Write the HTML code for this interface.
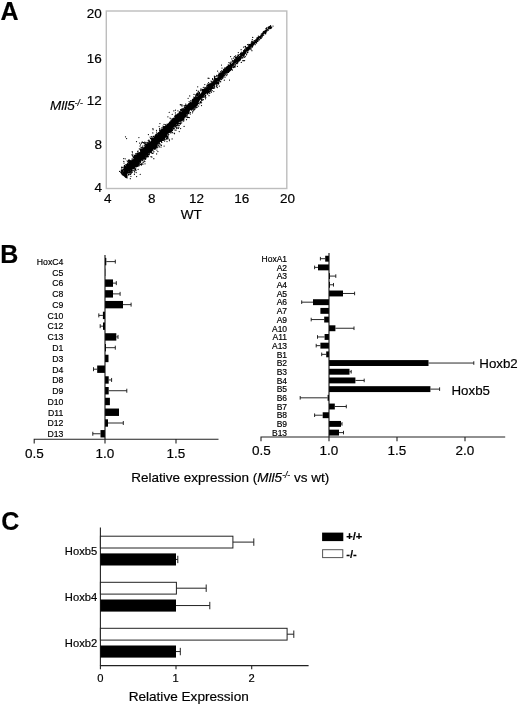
<!DOCTYPE html><html><head><meta charset="utf-8"><title>Figure</title><style>html,body{margin:0;padding:0;background:#fff}svg{display:block;filter:grayscale(1)}text{font-family:"Liberation Sans",Arial,sans-serif;fill:#000;stroke:#000;stroke-width:.18px}</style></head><body>
<svg width="520" height="705" viewBox="0 0 520 705">
<rect width="520" height="705" fill="#fff"/>
<text x="0.60" y="19.60" font-size="25" text-anchor="start" font-weight="bold" font-style="normal" >A</text>
<text x="0.30" y="262.60" font-size="25" text-anchor="start" font-weight="bold" font-style="normal" >B</text>
<text x="1.20" y="529.80" font-size="25" text-anchor="start" font-weight="bold" font-style="normal" >C</text>
<rect x="106.3" y="11" width="180.5" height="177.5" fill="none" stroke="#bdbdbd" stroke-width="1.4"/>
<text x="101.90" y="18.33" font-size="13.5" text-anchor="end" font-weight="normal" font-style="normal" >20</text>
<text x="101.90" y="62.83" font-size="13.5" text-anchor="end" font-weight="normal" font-style="normal" >16</text>
<text x="101.90" y="104.83" font-size="13.5" text-anchor="end" font-weight="normal" font-style="normal" >12</text>
<text x="101.90" y="148.83" font-size="13.5" text-anchor="end" font-weight="normal" font-style="normal" >8</text>
<text x="101.90" y="191.83" font-size="13.5" text-anchor="end" font-weight="normal" font-style="normal" >4</text>
<text x="107.80" y="202.93" font-size="13.5" text-anchor="middle" font-weight="normal" font-style="normal" >4</text>
<text x="151.80" y="202.93" font-size="13.5" text-anchor="middle" font-weight="normal" font-style="normal" >8</text>
<text x="196.50" y="202.93" font-size="13.5" text-anchor="middle" font-weight="normal" font-style="normal" >12</text>
<text x="241.70" y="202.93" font-size="13.5" text-anchor="middle" font-weight="normal" font-style="normal" >16</text>
<text x="287.50" y="202.93" font-size="13.5" text-anchor="middle" font-weight="normal" font-style="normal" >20</text>
<text x="191.20" y="219.43" font-size="13.5" text-anchor="middle" font-weight="normal" font-style="normal" >WT</text>
<text x="50" y="110.4" font-size="13.5" font-style="italic">Mll5<tspan font-size="8.5" dy="-4.5">-/-</tspan></text>
<polygon points="122.2,175.5 123.4,175.2 125.4,174.7 126.8,173.7 127.8,172.2 129.4,171.3 130.9,170.4 132.6,169.6 133.5,168.0 135.4,167.4 136.6,166.1 138.3,165.4 139.4,164.0 139.8,161.9 141.3,160.9 142.3,159.5 144.2,158.9 145.3,157.5 145.9,155.7 148.0,155.3 148.7,153.6 150.2,152.5 151.8,151.7 152.3,149.7 153.9,148.8 155.4,147.8 157.0,146.9 157.5,145.0 158.3,143.4 159.4,142.0 161.6,141.7 162.9,140.5 163.9,139.1 165.0,137.7 166.6,136.8 167.3,135.0 168.0,133.3 170.0,132.8 171.5,131.7 172.1,129.9 172.9,128.2 174.3,127.2 175.4,125.8 176.7,124.6 178.3,123.7 179.1,122.1 180.9,121.4 182.5,120.5 183.0,118.5 184.3,117.4 186.3,116.9 186.5,114.6 187.8,113.4 189.4,112.6 189.9,110.6 191.5,109.8 193.5,109.3 194.1,107.4 195.6,106.4 197.1,105.4 198.2,104.1 198.8,102.2 199.7,100.6 200.8,99.3 202.2,98.2 203.6,97.1 204.4,95.4 205.7,94.2 206.8,92.9 208.8,92.4 209.5,90.6 210.8,89.5 212.7,88.9 213.4,87.1 214.1,85.4 215.6,84.4 217.5,83.8 217.6,81.5 219.5,80.8 220.7,79.6 221.9,78.3 223.5,77.5 224.0,75.4 225.1,74.0 226.7,73.2 227.7,71.7 229.5,71.1 230.7,69.8 231.9,68.5 232.4,66.6 233.8,65.4 234.6,63.8 236.1,62.8 238.0,62.3 239.2,61.0 240.4,59.7 240.9,57.7 242.1,56.5 243.7,55.6 245.1,54.5 246.1,53.1 246.9,51.3 248.8,50.7 249.8,49.3 250.6,47.6 251.9,46.5 253.6,45.7 254.4,44.0 255.8,43.0 256.6,41.3 258.3,40.5 259.1,38.8 260.8,38.0 261.6,36.4 262.7,35.0 264.3,34.1 265.3,32.7 266.5,31.4 267.8,30.2 268.8,28.8 270.0,27.5 271.2,26.2 270.7,25.7 269.4,26.9 268.2,28.2 267.0,29.4 265.5,30.4 264.2,31.5 263.0,32.8 262.0,34.3 260.5,35.3 259.2,36.4 257.8,37.5 256.5,38.7 255.7,40.4 254.4,41.6 252.6,42.2 251.7,43.8 250.2,44.7 248.9,45.9 247.9,47.4 246.4,48.4 245.2,49.7 243.8,50.7 242.8,52.2 241.2,53.0 240.5,54.9 239.3,56.1 237.9,57.2 236.0,57.7 235.3,59.5 233.7,60.4 232.9,62.1 231.9,63.6 230.1,64.3 228.6,65.2 227.2,66.3 225.7,67.3 225.4,69.5 223.4,70.0 222.2,71.2 221.4,72.9 219.7,73.7 218.1,74.5 218.1,76.9 216.6,78.0 214.3,78.2 214.1,80.4 212.7,81.5 211.6,82.9 209.9,83.6 208.0,84.1 207.8,86.5 206.2,87.4 205.2,88.8 203.0,89.1 202.4,91.0 201.4,92.5 200.3,93.8 198.9,94.9 197.7,96.2 195.7,96.7 194.8,98.2 193.0,98.9 191.8,100.1 191.4,102.2 189.4,102.7 188.1,103.8 187.0,105.2 185.9,106.6 184.8,108.0 183.3,108.9 182.3,110.5 181.2,111.8 179.0,112.0 178.3,113.8 176.5,114.5 175.2,115.7 174.5,117.4 172.7,118.1 172.2,120.1 170.3,120.7 169.9,122.8 168.2,123.5 166.7,124.5 165.9,126.2 163.8,126.5 162.9,128.1 161.7,129.4 160.1,130.3 159.5,132.1 158.1,133.2 157.2,134.8 155.6,135.7 154.2,136.8 153.2,138.2 151.6,139.1 151.2,141.1 149.7,142.2 147.7,142.6 146.9,144.2 145.4,145.3 144.7,147.0 143.1,147.9 142.1,149.3 141.1,150.9 140.1,152.3 138.5,153.2 137.0,154.1 135.5,155.1 135.1,157.2 133.7,158.3 132.8,159.8 131.1,160.6 129.2,161.2 128.9,163.4 126.9,163.9 126.6,166.0 125.2,167.1 124.2,168.6 123.5,170.4 123.0,172.3 121.9,173.7 121.5,174.8" fill="#000"/>
<path d="M128.4 163.0h.01M234.9 59.2h.01M181.0 110.2h.01M194.8 98.5h.01M137.7 164.1h.01M207.1 85.1h.01M229.7 70.3h.01M125.7 174.0h.01M186.1 105.6h.01M213.2 87.5h.01M183.9 120.8h.01M254.5 41.1h.01M240.2 59.5h.01M209.6 91.5h.01M205.4 87.9h.01M129.8 162.1h.01M137.2 153.5h.01M137.0 165.7h.01M158.1 144.6h.01M158.7 145.5h.01M158.6 132.6h.01M266.6 27.8h.01M129.5 172.1h.01M233.8 60.9h.01M161.4 129.1h.01M129.7 171.4h.01M170.8 132.9h.01M124.9 167.5h.01M151.0 156.7h.01M256.7 41.7h.01M121.6 169.8h.01M126.9 174.1h.01M198.2 95.0h.01M143.1 147.3h.01M126.9 175.8h.01M145.8 156.0h.01M201.8 89.0h.01M207.8 83.9h.01M135.7 156.6h.01M266.7 29.2h.01M124.6 169.1h.01M208.4 92.5h.01M192.7 99.8h.01M172.8 128.8h.01M264.9 31.3h.01M144.9 161.5h.01M163.9 138.7h.01M125.8 167.3h.01M166.6 136.3h.01M125.3 167.8h.01M203.0 89.8h.01M218.2 82.4h.01M214.5 77.4h.01M217.2 76.5h.01M251.2 42.9h.01M234.8 59.4h.01M130.6 172.9h.01M236.0 56.9h.01M197.9 95.6h.01M220.2 74.3h.01M207.0 93.2h.01M241.3 58.2h.01M137.6 151.3h.01M173.0 118.9h.01M196.0 96.8h.01M202.3 91.2h.01M123.9 175.0h.01M210.9 91.3h.01M176.9 127.2h.01M155.2 149.0h.01M124.7 175.4h.01M270.9 28.4h.01M128.2 172.2h.01M128.5 162.7h.01M247.2 48.1h.01M167.0 138.3h.01M211.0 89.2h.01M149.0 141.6h.01M157.4 147.7h.01M212.7 79.6h.01M148.1 156.5h.01M161.6 142.2h.01M243.2 57.0h.01M146.6 155.9h.01M141.2 164.0h.01M252.4 42.8h.01M217.6 82.2h.01M205.3 96.6h.01M252.2 43.1h.01M146.7 144.0h.01M168.2 135.9h.01M137.1 164.6h.01M175.9 115.1h.01M270.6 27.1h.01M188.9 112.9h.01M146.0 157.8h.01M246.9 47.7h.01M163.2 139.3h.01M175.6 115.5h.01M124.9 166.1h.01M167.6 137.2h.01M133.6 168.8h.01M265.7 33.8h.01M266.1 32.5h.01M143.6 158.9h.01M125.4 167.8h.01M229.7 71.1h.01M262.5 33.0h.01M214.6 86.8h.01M164.7 137.6h.01M125.1 176.4h.01M177.6 124.7h.01M124.8 174.5h.01M176.3 116.1h.01M129.5 172.5h.01M125.3 174.5h.01M161.4 141.6h.01M136.5 155.9h.01M226.4 73.9h.01M127.0 165.4h.01M250.8 47.9h.01M255.7 42.6h.01M266.1 31.8h.01M168.8 123.7h.01M216.8 76.5h.01M202.4 90.9h.01M122.3 171.7h.01M172.7 129.8h.01M150.3 152.2h.01M158.6 133.7h.01M237.0 63.2h.01M187.7 113.8h.01M155.5 135.1h.01M125.6 174.0h.01M232.9 66.3h.01M161.1 141.0h.01M142.7 149.0h.01M214.7 78.6h.01M125.8 176.0h.01M227.9 66.4h.01M135.7 169.9h.01M234.5 60.4h.01M157.1 146.6h.01M183.9 119.5h.01M147.1 156.9h.01M136.5 165.4h.01M268.9 29.0h.01M268.2 28.0h.01M145.4 158.3h.01M229.1 71.4h.01M191.5 109.3h.01M139.5 163.2h.01M246.5 48.5h.01M182.8 119.8h.01M202.1 90.4h.01M237.7 56.8h.01M247.5 52.4h.01M257.5 41.1h.01M173.5 128.5h.01M198.1 91.9h.01M142.8 159.5h.01M122.7 171.4h.01M232.5 61.5h.01M128.9 172.4h.01M189.1 113.1h.01M204.0 97.2h.01M167.0 137.1h.01M261.9 36.1h.01M168.1 133.6h.01M166.3 138.4h.01M171.2 130.7h.01M175.2 126.6h.01M126.5 173.6h.01M221.4 79.5h.01M145.3 146.3h.01M221.1 73.2h.01M146.0 142.4h.01M123.3 170.2h.01M124.8 167.0h.01M195.6 95.0h.01M237.8 61.3h.01M164.5 138.7h.01M264.3 31.4h.01M209.9 93.0h.01M192.9 99.7h.01M154.0 148.7h.01M207.1 93.4h.01M175.6 125.8h.01M237.1 57.7h.01M170.6 131.1h.01M177.0 115.0h.01M225.8 68.8h.01M220.3 72.9h.01M240.6 53.2h.01M132.9 154.9h.01M208.6 85.3h.01M127.4 172.7h.01M252.6 46.3h.01M176.9 115.6h.01M155.6 147.4h.01M161.9 130.4h.01M131.9 159.1h.01M227.4 74.0h.01M184.1 105.7h.01M140.9 149.6h.01M142.2 147.8h.01M155.4 136.1h.01M147.1 144.9h.01M199.3 92.5h.01M216.9 76.5h.01M129.8 160.8h.01M133.9 168.3h.01M124.4 174.8h.01M186.6 115.0h.01M195.8 106.1h.01M121.7 172.7h.01M174.2 128.7h.01M167.3 136.2h.01M123.1 169.6h.01M193.1 99.1h.01M140.3 149.8h.01M139.2 162.9h.01M121.8 172.9h.01M179.5 113.1h.01M234.9 64.4h.01M269.2 26.7h.01M217.4 83.5h.01M124.1 167.1h.01M143.4 158.2h.01M248.1 47.2h.01M216.8 84.3h.01M146.9 144.8h.01M124.6 166.9h.01M258.3 36.0h.01M140.3 162.7h.01M171.9 119.9h.01M243.2 55.7h.01M231.0 69.7h.01M191.6 109.9h.01M158.4 143.3h.01M124.9 174.4h.01M220.8 79.1h.01M134.5 155.3h.01M131.5 170.3h.01M121.9 171.1h.01M234.5 59.6h.01M177.7 124.2h.01M156.2 148.0h.01M153.1 136.4h.01M223.9 70.1h.01M239.7 54.5h.01M184.0 117.4h.01M211.8 81.8h.01M194.4 109.5h.01M123.5 175.3h.01M161.2 145.4h.01M263.3 31.9h.01M150.6 151.6h.01M180.9 120.7h.01M201.9 98.9h.01M255.8 40.1h.01M163.0 140.4h.01M249.5 44.7h.01M260.6 38.7h.01M159.8 143.7h.01M138.7 165.7h.01M195.2 108.8h.01M182.5 119.4h.01M215.4 78.6h.01M137.5 166.3h.01M142.1 149.2h.01M140.0 161.6h.01M228.8 65.4h.01M145.1 146.8h.01M125.2 174.4h.01M176.6 127.3h.01M124.0 175.6h.01M238.5 55.4h.01M206.9 85.9h.01M250.4 48.2h.01M213.7 80.6h.01M121.7 172.3h.01M251.2 49.1h.01M122.9 171.6h.01M214.1 79.8h.01M182.7 108.9h.01M199.5 92.7h.01M136.9 155.3h.01M178.8 113.8h.01M147.8 156.4h.01M124.6 175.7h.01M194.3 107.6h.01M218.5 75.1h.01M175.2 126.3h.01M231.2 62.2h.01M235.1 64.2h.01M176.4 125.7h.01M155.0 137.2h.01M211.0 81.1h.01M121.7 173.5h.01M155.1 136.5h.01M207.8 93.9h.01M243.1 56.7h.01M187.3 116.9h.01M207.2 94.1h.01M189.4 103.3h.01M228.6 72.2h.01M193.7 97.1h.01M205.2 88.1h.01M181.7 122.8h.01M222.2 78.6h.01M163.6 127.5h.01M180.3 121.8h.01M145.9 155.9h.01M136.6 165.5h.01M240.5 59.5h.01M270.6 25.6h.01M124.7 175.2h.01M234.8 66.2h.01M122.7 171.9h.01M152.2 138.9h.01M151.2 152.0h.01M185.2 107.2h.01M150.6 138.5h.01M265.4 30.7h.01M217.0 83.9h.01M229.5 70.1h.01M167.6 137.6h.01M133.8 156.6h.01M195.6 96.5h.01M135.8 153.6h.01M204.3 88.9h.01M224.9 69.2h.01M227.1 66.8h.01M244.2 54.7h.01M176.4 116.4h.01M227.6 72.1h.01M124.4 175.4h.01M178.2 125.1h.01M248.7 46.1h.01M120.9 172.5h.01M144.2 160.8h.01M122.2 172.9h.01M256.6 43.1h.01M220.1 81.0h.01M204.9 87.4h.01M218.1 83.6h.01M164.5 137.2h.01M261.6 34.0h.01M176.7 125.5h.01M155.7 135.6h.01M228.6 71.6h.01M227.1 67.6h.01M243.7 51.4h.01M236.0 58.7h.01M157.3 133.4h.01M234.1 65.9h.01M131.5 161.1h.01M153.2 153.0h.01M142.6 146.0h.01M160.1 144.5h.01M227.4 66.7h.01M154.8 149.1h.01M195.5 106.7h.01M175.3 127.1h.01M159.8 129.8h.01M246.3 47.9h.01M142.0 159.9h.01M155.4 135.4h.01M140.5 150.6h.01M163.4 140.3h.01M155.6 148.3h.01M186.5 119.7h.01M195.3 106.4h.01M165.2 127.1h.01M148.5 156.7h.01M270.2 27.5h.01M245.6 53.0h.01M241.8 52.1h.01M141.8 149.2h.01M261.2 34.2h.01M162.5 140.2h.01M132.7 159.2h.01M239.3 59.7h.01M126.6 173.2h.01M197.2 107.2h.01M177.1 125.5h.01M137.7 164.9h.01M251.8 41.8h.01M131.1 160.7h.01M256.7 38.8h.01M261.7 34.1h.01M237.9 56.3h.01M173.0 119.3h.01M151.6 140.0h.01M172.5 130.6h.01M167.9 134.0h.01M234.1 67.2h.01M148.2 140.3h.01M197.4 93.4h.01M185.6 105.6h.01M171.6 131.8h.01M256.5 42.2h.01M235.3 57.5h.01M267.0 30.9h.01M167.1 124.0h.01M139.5 163.1h.01M134.4 167.6h.01M216.4 83.9h.01M225.2 74.4h.01M195.2 97.6h.01M121.3 172.6h.01M237.7 56.5h.01M238.3 56.8h.01M129.7 171.3h.01M140.9 150.5h.01M121.8 170.7h.01M184.8 117.8h.01M127.4 163.8h.01M225.0 67.5h.01M151.4 150.4h.01M180.8 110.4h.01M145.9 156.6h.01M141.3 150.3h.01M122.2 172.8h.01M179.8 111.9h.01M159.4 142.7h.01M175.1 116.4h.01M132.4 170.7h.01M244.2 55.3h.01M223.1 77.8h.01M208.6 82.5h.01M160.8 131.5h.01M237.2 57.0h.01M232.4 61.3h.01M146.5 155.9h.01M155.6 135.2h.01M143.7 158.7h.01M224.9 68.4h.01M122.0 171.1h.01M253.0 41.6h.01M201.5 100.9h.01M166.3 126.0h.01M127.3 163.8h.01M124.6 167.1h.01M246.7 48.3h.01M144.5 147.8h.01M194.5 97.7h.01M134.9 155.3h.01M176.4 125.4h.01M159.1 147.1h.01M124.2 175.4h.01M155.7 146.3h.01M145.3 143.3h.01M184.4 107.3h.01M239.4 60.8h.01M179.3 111.9h.01M159.2 146.2h.01M195.8 96.9h.01M142.8 147.5h.01M168.8 134.5h.01M175.8 115.8h.01M163.3 127.6h.01M239.7 54.5h.01M218.8 82.1h.01M205.7 95.7h.01M164.8 139.8h.01M188.9 103.8h.01M237.1 63.4h.01M263.1 35.0h.01M247.8 47.0h.01M147.7 144.5h.01M182.0 109.0h.01M164.6 137.1h.01M174.3 128.1h.01M162.6 139.4h.01M245.3 49.0h.01M209.6 84.3h.01M139.0 165.8h.01M127.0 165.2h.01M233.7 60.5h.01M180.1 111.8h.01M182.2 120.0h.01M153.7 136.4h.01M213.7 88.4h.01M254.7 43.6h.01M190.7 102.0h.01M243.6 50.7h.01M193.1 108.3h.01M124.9 174.6h.01M234.6 60.4h.01M208.2 85.4h.01M217.1 83.2h.01M241.4 53.2h.01M159.1 142.9h.01M190.3 102.7h.01M126.6 173.3h.01M149.2 142.2h.01M147.2 143.1h.01M145.6 156.5h.01M167.9 133.5h.01M129.6 171.6h.01M134.2 157.7h.01M151.3 138.9h.01M167.6 136.2h.01M190.5 112.5h.01M151.7 152.6h.01M233.3 66.1h.01M130.1 171.3h.01M171.2 120.8h.01M136.3 165.4h.01M152.9 150.4h.01M144.5 159.0h.01M197.2 105.2h.01M186.8 115.0h.01M210.2 89.8h.01M216.9 75.5h.01M154.0 148.0h.01M210.2 83.8h.01M124.0 168.9h.01M134.5 156.7h.01M150.6 151.8h.01M225.1 69.2h.01M138.3 163.9h.01M250.9 47.8h.01M153.8 136.8h.01M151.8 150.8h.01M161.8 130.0h.01M140.4 161.5h.01M198.4 95.0h.01M188.3 104.9h.01M258.8 40.2h.01M249.5 44.8h.01M211.3 89.8h.01M137.0 155.4h.01M270.2 26.0h.01M151.0 152.5h.01M209.5 84.1h.01M177.8 114.4h.01M180.6 123.2h.01M137.8 163.9h.01M146.9 156.1h.01M158.9 143.2h.01M209.2 91.4h.01M121.4 172.9h.01M128.3 162.4h.01M150.7 138.7h.01M210.4 90.3h.01M239.9 59.4h.01M161.8 142.4h.01M250.8 48.2h.01M136.9 165.6h.01M145.5 144.9h.01M125.1 167.7h.01M131.9 170.5h.01M121.8 173.2h.01M197.9 95.1h.01M124.5 168.0h.01M225.1 69.4h.01M126.0 165.6h.01M222.1 78.4h.01M145.5 159.3h.01M239.6 59.7h.01M250.9 44.6h.01M163.7 126.5h.01M134.5 167.0h.01M167.7 124.5h.01M177.9 123.6h.01M121.3 173.0h.01M135.8 168.1h.01M183.7 118.4h.01M252.6 46.7h.01M121.5 173.2h.01M130.1 172.5h.01M165.4 126.6h.01M262.5 33.3h.01M218.6 82.0h.01M262.2 36.7h.01M152.5 149.4h.01M138.3 153.9h.01M128.5 160.0h.01M180.9 110.7h.01M148.2 154.7h.01M138.2 154.0h.01M134.4 157.7h.01M138.2 152.9h.01M216.7 75.4h.01M232.8 67.3h.01M197.2 94.7h.01M183.9 109.0h.01M186.2 105.2h.01M167.8 136.0h.01M122.0 173.0h.01M164.6 126.6h.01M186.8 105.8h.01M230.7 63.7h.01M237.7 62.5h.01M218.7 82.5h.01M126.2 166.2h.01M147.2 155.3h.01M121.4 171.8h.01M126.6 164.9h.01M129.9 160.8h.01M195.9 106.4h.01M261.1 37.2h.01M244.3 50.7h.01M124.2 168.1h.01M263.5 31.9h.01M160.3 131.7h.01M185.5 115.9h.01M195.5 105.8h.01M157.2 145.8h.01M154.9 148.0h.01M170.4 122.3h.01M198.3 94.4h.01M181.6 120.9h.01M270.3 28.5h.01M224.8 69.1h.01M161.3 141.3h.01M212.2 90.6h.01M218.2 75.5h.01M151.7 139.5h.01M245.6 47.8h.01M270.6 27.0h.01M121.4 172.9h.01M255.9 39.7h.01M152.8 149.2h.01M129.1 173.2h.01M195.0 106.7h.01M214.6 78.5h.01M155.8 147.6h.01M202.0 99.6h.01M142.9 159.4h.01M134.4 155.7h.01M197.7 104.0h.01M218.8 83.5h.01M181.5 109.1h.01M149.0 140.2h.01M205.5 95.3h.01M242.1 52.3h.01M202.4 100.0h.01M258.2 37.7h.01M255.0 40.6h.01M135.9 165.5h.01M128.7 161.1h.01M152.8 137.9h.01M202.9 89.8h.01M235.6 65.1h.01M228.0 71.7h.01M192.6 112.8h.01M134.8 169.2h.01M130.7 161.5h.01M224.6 75.5h.01M187.8 113.3h.01M142.5 149.5h.01M187.2 117.5h.01M167.2 124.5h.01M176.7 128.4h.01M125.8 164.5h.01M210.0 90.9h.01M192.8 111.4h.01M125.5 175.0h.01M145.7 156.8h.01M146.7 143.9h.01M265.9 28.6h.01M262.2 36.0h.01M152.2 153.4h.01M150.2 141.9h.01M142.2 160.1h.01M122.1 169.9h.01M133.3 157.7h.01M233.2 65.9h.01M134.5 168.6h.01M175.5 125.8h.01M152.7 139.0h.01M196.2 107.7h.01M122.9 171.7h.01M219.9 81.2h.01M129.2 174.6h.01M123.8 175.5h.01M198.3 93.5h.01M262.7 35.3h.01M240.5 54.7h.01M124.1 175.1h.01M140.6 162.0h.01M120.7 172.0h.01M183.1 108.3h.01M168.3 138.0h.01M163.7 138.0h.01M248.6 45.0h.01M194.8 98.7h.01M268.3 27.1h.01M124.2 166.3h.01M213.3 87.0h.01M188.6 112.3h.01M178.4 114.5h.01M139.7 152.6h.01M159.7 131.1h.01M123.8 168.1h.01M141.2 147.4h.01M184.4 116.8h.01M180.2 111.9h.01M145.3 157.2h.01M156.2 147.2h.01M132.7 168.7h.01M204.2 89.0h.01M176.1 130.0h.01M175.0 130.0h.01M224.9 75.0h.01M196.7 95.6h.01M141.2 149.7h.01M148.7 143.8h.01M148.0 155.8h.01M243.6 55.5h.01M263.1 35.2h.01M164.6 141.0h.01M265.4 32.9h.01M159.0 132.7h.01M265.9 30.1h.01M156.4 145.5h.01M156.6 132.0h.01M127.0 165.6h.01M214.7 86.0h.01M171.8 129.6h.01M205.7 87.9h.01M185.4 107.5h.01M133.7 170.6h.01M175.5 115.8h.01M191.7 110.2h.01M241.8 52.1h.01M240.6 58.5h.01M155.2 146.7h.01M134.1 157.7h.01M142.1 150.1h.01M183.3 119.2h.01M230.4 64.2h.01M153.4 148.9h.01M202.3 89.5h.01M156.0 135.2h.01M220.7 81.8h.01M162.5 129.5h.01M146.1 145.0h.01M162.3 130.0h.01M165.9 125.6h.01M129.2 162.6h.01M254.0 40.8h.01M176.1 116.0h.01M186.9 115.3h.01M183.5 117.7h.01M163.3 128.6h.01M216.4 85.9h.01M122.6 170.9h.01M221.8 72.2h.01M155.0 149.3h.01M130.1 160.7h.01M156.1 145.7h.01M137.6 153.0h.01M165.4 126.2h.01M125.6 174.2h.01M151.8 150.9h.01M247.7 47.6h.01M192.4 99.8h.01M140.8 161.1h.01M194.8 108.6h.01M265.2 33.7h.01M137.9 164.5h.01M140.6 150.4h.01M230.9 62.1h.01M125.8 166.5h.01M125.9 174.9h.01M162.0 127.7h.01M157.0 133.7h.01M155.7 136.7h.01M152.9 148.8h.01M247.9 51.9h.01M155.6 146.0h.01M182.2 119.4h.01M267.9 27.8h.01M250.0 49.5h.01M212.4 88.1h.01M136.5 166.7h.01M146.6 145.4h.01M207.8 92.4h.01M237.2 63.7h.01M268.2 30.3h.01M152.4 138.1h.01M196.4 105.7h.01M121.5 170.8h.01M217.2 76.5h.01M135.6 155.4h.01M217.0 85.6h.01M176.3 116.5h.01M220.6 73.4h.01M230.6 70.3h.01M189.1 101.5h.01M129.3 163.2h.01M250.5 44.3h.01M165.3 124.5h.01M219.7 73.8h.01M263.6 31.6h.01M220.7 73.8h.01M244.7 49.3h.01M160.0 131.8h.01M237.9 62.7h.01M138.7 153.0h.01M231.8 69.1h.01M193.4 98.8h.01M198.4 103.4h.01M188.8 113.6h.01M152.0 150.8h.01M133.6 157.0h.01M127.5 163.9h.01M157.4 133.9h.01M161.2 141.3h.01M154.7 149.3h.01M240.6 53.4h.01M186.1 116.8h.01M185.7 104.0h.01M206.8 87.0h.01M127.9 161.7h.01M208.8 92.4h.01M155.4 135.7h.01M257.1 37.6h.01M155.9 135.7h.01M244.6 50.1h.01M220.3 73.3h.01M126.1 175.1h.01M128.6 160.6h.01M271.7 27.6h.01M145.3 144.3h.01M190.3 114.1h.01M174.5 116.1h.01M213.0 87.9h.01M231.7 68.8h.01M135.3 155.7h.01M207.6 86.0h.01M264.3 31.1h.01M147.9 142.3h.01M196.1 95.6h.01M165.9 137.1h.01M149.1 154.2h.01M199.5 93.4h.01M126.6 174.7h.01M223.7 76.1h.01M217.6 83.0h.01M141.0 147.9h.01M181.6 110.7h.01M149.3 154.7h.01M247.4 52.7h.01M257.8 41.4h.01M263.6 32.1h.01M237.4 56.0h.01M166.9 136.4h.01M180.5 109.7h.01M134.5 168.6h.01M240.1 54.7h.01M161.8 130.3h.01M129.2 159.9h.01M175.7 114.8h.01M247.7 51.8h.01M200.0 102.4h.01M194.3 98.3h.01M124.4 165.4h.01M122.2 172.5h.01M240.3 60.1h.01M168.5 124.2h.01M190.8 100.7h.01M131.8 170.0h.01M263.2 32.8h.01M144.3 145.7h.01M143.3 158.8h.01M123.7 169.3h.01M195.5 107.2h.01M205.1 88.7h.01M230.1 63.2h.01M198.8 91.1h.01M169.3 122.9h.01M200.4 101.7h.01M150.3 151.5h.01M225.0 68.2h.01M227.3 72.0h.01M218.9 73.1h.01M128.6 174.3h.01M186.1 106.8h.01M269.7 28.3h.01M169.1 132.5h.01M227.6 72.5h.01M179.4 123.1h.01M231.4 68.0h.01M185.7 116.0h.01M143.5 162.1h.01M259.1 36.6h.01M224.5 68.8h.01M135.3 169.4h.01M215.2 76.7h.01M175.6 126.2h.01M243.9 55.9h.01M123.8 175.3h.01M163.9 138.3h.01M167.2 125.0h.01M222.5 71.6h.01M159.8 129.2h.01M217.8 83.3h.01M251.4 43.5h.01M211.2 82.9h.01M199.3 94.3h.01M140.7 151.7h.01M126.1 173.6h.01M228.4 72.4h.01M148.2 154.3h.01M173.3 119.3h.01M132.6 156.1h.01M201.6 102.8h.01M254.6 43.8h.01M184.8 106.1h.01M212.3 81.9h.01M169.5 122.1h.01M235.8 59.1h.01M136.8 155.5h.01M200.2 102.5h.01M210.3 89.9h.01M131.4 173.0h.01M226.7 75.5h.01M124.5 176.0h.01M208.0 85.8h.01M254.4 40.5h.01M253.0 42.2h.01M218.5 84.1h.01M241.9 57.3h.01M167.3 124.6h.01M227.2 66.5h.01M167.7 124.6h.01M221.8 70.7h.01M232.9 66.2h.01M152.2 138.2h.01M223.5 69.3h.01M228.2 64.9h.01M170.6 132.8h.01M182.3 109.7h.01M259.3 39.7h.01M205.1 95.2h.01M172.4 132.7h.01M194.3 97.3h.01M225.0 77.2h.01M263.7 35.0h.01M202.5 89.8h.01M153.0 148.8h.01M124.8 168.7h.01M200.7 90.7h.01M139.5 164.8h.01M159.5 130.5h.01M245.3 56.3h.01M238.5 60.8h.01M230.3 63.9h.01M197.5 95.6h.01M207.5 92.9h.01M173.2 118.3h.01M192.2 109.0h.01M153.9 151.7h.01M155.5 135.3h.01M156.8 135.0h.01M244.2 50.8h.01M150.6 151.1h.01M246.9 47.9h.01M140.5 151.9h.01M204.6 89.2h.01M150.6 152.0h.01M130.1 171.1h.01M254.5 41.0h.01M127.7 172.7h.01M146.0 157.7h.01M219.2 74.7h.01M126.5 164.8h.01M182.6 118.6h.01M129.8 172.5h.01M128.6 172.6h.01M130.5 170.8h.01M178.4 123.5h.01M197.3 94.5h.01M187.4 114.9h.01M208.4 92.7h.01M218.3 75.2h.01M203.3 90.5h.01M251.7 46.8h.01M242.7 58.1h.01M220.2 74.0h.01M159.6 128.5h.01M127.6 172.8h.01M209.7 91.1h.01M135.8 156.0h.01M144.1 148.2h.01M153.3 138.7h.01M187.9 105.1h.01M199.7 103.8h.01M172.3 119.4h.01M149.6 153.0h.01M271.2 26.8h.01M145.8 158.7h.01M230.8 69.2h.01M262.7 35.4h.01M131.1 171.9h.01M122.8 167.3h.01M246.6 54.0h.01M173.0 128.9h.01M249.7 45.9h.01M192.4 109.0h.01M204.8 96.5h.01M214.4 85.7h.01M142.7 160.6h.01M206.8 86.4h.01M178.1 128.1h.01M263.0 35.3h.01M166.1 135.3h.01M164.0 139.2h.01M133.2 168.4h.01M177.7 113.9h.01M205.4 96.1h.01M153.6 138.5h.01M139.2 165.0h.01M165.2 136.5h.01M236.5 57.5h.01M156.1 134.3h.01M137.9 166.2h.01M140.6 161.6h.01M218.7 81.1h.01M129.3 171.6h.01M144.5 158.4h.01M126.1 176.3h.01M265.4 32.8h.01M145.8 144.7h.01M152.1 140.2h.01M197.0 95.4h.01M128.6 163.0h.01M133.7 156.9h.01M220.3 73.3h.01M138.8 152.9h.01M125.5 166.4h.01M231.5 69.4h.01M237.0 62.1h.01M127.0 165.6h.01M220.2 73.2h.01M122.6 172.1h.01M183.1 118.4h.01M252.2 47.2h.01M269.7 26.6h.01M224.5 69.9h.01M160.5 131.0h.01M131.0 172.7h.01M130.2 160.9h.01M149.8 141.2h.01M211.7 88.5h.01M201.2 99.7h.01M141.8 150.3h.01M259.2 39.6h.01M182.3 110.5h.01M131.9 171.0h.01M128.1 162.3h.01M171.0 120.9h.01M203.2 89.9h.01M129.6 161.6h.01M122.4 171.8h.01M148.9 141.5h.01M137.2 164.4h.01M155.2 135.4h.01M265.6 32.2h.01M171.0 118.8h.01M225.0 75.1h.01M255.2 44.7h.01M233.7 67.5h.01M265.7 30.5h.01M132.8 159.1h.01M127.0 173.5h.01M192.9 108.0h.01M262.2 36.9h.01M236.1 63.6h.01M165.8 136.9h.01M122.0 173.2h.01M232.4 60.6h.01M268.8 27.6h.01M183.2 121.1h.01M240.2 59.6h.01M153.6 138.5h.01M248.0 52.1h.01M228.5 65.6h.01M261.2 38.3h.01M219.6 80.6h.01M132.3 172.2h.01M157.0 135.0h.01M222.1 78.8h.01M262.1 36.0h.01M155.6 147.6h.01M193.7 109.3h.01M179.4 123.7h.01M135.9 154.7h.01M202.1 89.9h.01M217.4 82.7h.01M140.2 164.3h.01M138.3 153.9h.01M137.0 153.4h.01M203.2 97.2h.01M138.1 169.3h.01M125.2 158.8h.01M159.9 123.5h.01M252.7 37.4h.01M219.3 86.0h.01M204.8 84.6h.01M145.0 144.3h.01M163.0 126.0h.01M230.6 56.6h.01M179.2 125.4h.01M181.0 104.9h.01M143.0 164.0h.01M151.4 136.5h.01M124.6 176.3h.01M198.0 93.0h.01M174.1 133.1h.01M177.9 110.8h.01M196.7 90.3h.01M196.8 93.4h.01M244.6 60.6h.01M246.6 54.8h.01M212.6 78.7h.01M136.6 176.6h.01M136.5 141.6h.01M141.5 165.1h.01M189.4 117.5h.01M134.6 171.9h.01M139.3 148.8h.01M140.2 174.3h.01M159.1 126.6h.01M167.3 138.9h.01M134.6 170.8h.01M194.0 94.4h.01M161.4 145.2h.01M201.5 105.6h.01M184.1 126.4h.01M222.0 68.1h.01M242.8 60.7h.01M164.1 146.0h.01M200.6 89.1h.01M134.4 174.0h.01M173.8 110.8h.01M140.6 144.8h.01M135.6 169.8h.01M231.8 58.9h.01M167.7 137.1h.01M143.8 142.7h.01M238.3 52.6h.01M169.2 139.3h.01M217.4 87.5h.01M156.6 153.9h.01M179.2 131.6h.01M140.0 146.0h.01M126.3 177.5h.01M121.2 170.1h.01M127.0 176.0h.01M197.7 86.8h.01M167.9 116.8h.01M121.8 168.0h.01M203.3 87.3h.01M157.9 151.5h.01M175.4 110.2h.01M125.5 175.9h.01M196.3 94.3h.01M130.6 174.4h.01M188.1 98.3h.01M143.1 142.6h.01M141.9 164.0h.01M248.9 44.4h.01M136.0 170.6h.01M141.4 143.2h.01M198.6 106.1h.01M152.8 132.9h.01M228.9 62.5h.01M153.8 158.7h.01M235.6 55.8h.01M134.4 174.3h.01M119.6 171.4h.01M208.1 78.2h.01M151.4 138.0h.01M169.2 112.3h.01M243.5 47.0h.01M188.4 117.4h.01M233.5 58.1h.01M209.0 78.3h.01M140.1 149.1h.01M132.4 152.8h.01M172.1 138.9h.01M243.8 60.6h.01M124.0 163.0h.01M172.2 114.3h.01M244.7 57.3h.01M214.6 87.9h.01M232.5 70.1h.01M205.8 97.5h.01M130.9 176.3h.01M205.5 98.8h.01M144.7 142.0h.01M241.1 49.7h.01M214.3 76.0h.01M152.9 128.6h.01M169.4 140.7h.01M209.7 93.3h.01M251.8 41.4h.01M209.0 95.7h.01M131.9 154.8h.01M127.2 177.8h.01M237.4 66.3h.01M166.0 139.5h.01M139.6 143.1h.01M135.6 169.4h.01M127.1 160.8h.01M151.9 157.0h.01M216.8 86.9h.01M241.3 62.4h.01M247.5 44.5h.01M182.0 106.0h.01M121.7 167.0h.01M214.6 77.4h.01M156.5 130.3h.01M245.5 46.3h.01M180.6 128.6h.01M136.2 172.6h.01M143.0 162.3h.01M170.0 118.0h.01M235.2 66.9h.01M245.0 46.7h.01M251.9 50.7h.01M178.4 128.3h.01M130.7 173.1h.01M180.3 104.7h.01M144.2 143.3h.01M182.0 104.9h.01M142.5 142.2h.01M138.2 151.0h.01M130.3 178.7h.01M178.9 127.1h.01M220.7 71.6h.01M189.7 95.9h.01M203.4 99.7h.01M126.9 176.6h.01M180.5 124.1h.01M148.4 134.6h.01M125.7 177.3h.01M123.7 158.5h.01M132.2 151.6h.01M174.5 133.7h.01M201.0 102.7h.01M217.6 71.0h.01M145.0 163.8h.01M138.9 137.6h.01M252.3 39.7h.01M193.7 110.3h.01M142.1 142.1h.01M141.9 163.7h.01M175.4 112.9h.01M123.8 161.4h.01M150.1 137.1h.01M125.4 176.9h.01M211.4 92.2h.01M224.3 80.2h.01M156.9 150.1h.01M213.8 91.5h.01M153.1 129.7h.01M238.1 54.7h.01M128.1 175.0h.01M121.6 167.8h.01M164.0 124.3h.01M140.9 164.7h.01M234.4 56.6h.01M125.5 136.8h.01M126.6 138.6h.01M229.5 80.0h.01M221.5 65.0h.01M271.5 27.5h.01M273.0 26.0h.01M167.0 141.5h.01M161.0 147.0h.01" stroke="#000" stroke-width="1.25" stroke-linecap="round" fill="none"/>
<text x="63.40" y="264.91" font-size="8.7" text-anchor="end" font-weight="normal" font-style="normal" >HoxC4</text>
<rect x="105.00" y="257.90" width="1.30" height="7.40" fill="#000"/>
<path d="M106.30 261.60H115.30M115.30 259.60V263.60" stroke="#111" stroke-width="0.9" fill="none"/>
<text x="63.40" y="275.67" font-size="8.7" text-anchor="end" font-weight="normal" font-style="normal" >C5</text>
<rect x="105.00" y="268.66" width="0.30" height="7.40" fill="#000"/>
<text x="63.40" y="286.43" font-size="8.7" text-anchor="end" font-weight="normal" font-style="normal" >C6</text>
<rect x="105.00" y="279.42" width="8.00" height="7.40" fill="#000"/>
<path d="M113.00 283.12H116.30M116.30 281.12V285.12" stroke="#111" stroke-width="0.9" fill="none"/>
<text x="63.40" y="297.19" font-size="8.7" text-anchor="end" font-weight="normal" font-style="normal" >C8</text>
<rect x="105.00" y="290.18" width="8.00" height="7.40" fill="#000"/>
<path d="M113.00 293.88H120.10M120.10 291.88V295.88" stroke="#111" stroke-width="0.9" fill="none"/>
<text x="63.40" y="307.95" font-size="8.7" text-anchor="end" font-weight="normal" font-style="normal" >C9</text>
<rect x="105.00" y="300.94" width="18.00" height="7.40" fill="#000"/>
<path d="M123.00 304.64H131.10M131.10 302.64V306.64" stroke="#111" stroke-width="0.9" fill="none"/>
<text x="63.40" y="318.71" font-size="8.7" text-anchor="end" font-weight="normal" font-style="normal" >C10</text>
<rect x="102.90" y="311.70" width="2.10" height="7.40" fill="#000"/>
<path d="M102.90 315.40H98.80M98.80 313.40V317.40" stroke="#111" stroke-width="0.9" fill="none"/>
<text x="63.40" y="329.47" font-size="8.7" text-anchor="end" font-weight="normal" font-style="normal" >C12</text>
<rect x="103.00" y="322.46" width="2.00" height="7.40" fill="#000"/>
<path d="M103.00 326.16H100.20M100.20 324.16V328.16" stroke="#111" stroke-width="0.9" fill="none"/>
<text x="63.40" y="340.23" font-size="8.7" text-anchor="end" font-weight="normal" font-style="normal" >C13</text>
<rect x="105.00" y="333.22" width="11.30" height="7.40" fill="#000"/>
<path d="M116.30 336.92H118.00M118.00 334.92V338.92" stroke="#111" stroke-width="0.9" fill="none"/>
<text x="63.40" y="350.99" font-size="8.7" text-anchor="end" font-weight="normal" font-style="normal" >D1</text>
<rect x="105.00" y="343.98" width="1.00" height="7.40" fill="#000"/>
<path d="M106.00 347.68H115.30M115.30 345.68V349.68" stroke="#111" stroke-width="0.9" fill="none"/>
<text x="63.40" y="361.75" font-size="8.7" text-anchor="end" font-weight="normal" font-style="normal" >D3</text>
<rect x="105.00" y="354.74" width="3.50" height="7.40" fill="#000"/>
<text x="63.40" y="372.51" font-size="8.7" text-anchor="end" font-weight="normal" font-style="normal" >D4</text>
<rect x="97.20" y="365.50" width="7.80" height="7.40" fill="#000"/>
<path d="M97.20 369.20H93.50M93.50 367.20V371.20" stroke="#111" stroke-width="0.9" fill="none"/>
<text x="63.40" y="383.27" font-size="8.7" text-anchor="end" font-weight="normal" font-style="normal" >D8</text>
<rect x="105.00" y="376.26" width="3.70" height="7.40" fill="#000"/>
<path d="M108.70 379.96H111.60M111.60 377.96V381.96" stroke="#111" stroke-width="0.9" fill="none"/>
<text x="63.40" y="394.03" font-size="8.7" text-anchor="end" font-weight="normal" font-style="normal" >D9</text>
<rect x="105.00" y="387.02" width="3.70" height="7.40" fill="#000"/>
<path d="M108.70 390.72H126.80M126.80 388.72V392.72" stroke="#111" stroke-width="0.9" fill="none"/>
<text x="63.40" y="404.79" font-size="8.7" text-anchor="end" font-weight="normal" font-style="normal" >D10</text>
<rect x="105.00" y="397.78" width="4.90" height="7.40" fill="#000"/>
<text x="63.40" y="415.55" font-size="8.7" text-anchor="end" font-weight="normal" font-style="normal" >D11</text>
<rect x="105.00" y="408.54" width="14.00" height="7.40" fill="#000"/>
<text x="63.40" y="426.31" font-size="8.7" text-anchor="end" font-weight="normal" font-style="normal" >D12</text>
<rect x="105.00" y="419.30" width="3.00" height="7.40" fill="#000"/>
<path d="M108.00 423.00H123.30M123.30 421.00V425.00" stroke="#111" stroke-width="0.9" fill="none"/>
<text x="63.40" y="437.07" font-size="8.7" text-anchor="end" font-weight="normal" font-style="normal" >D13</text>
<rect x="100.50" y="430.06" width="4.50" height="7.40" fill="#000"/>
<path d="M100.50 433.76H92.80M92.80 431.76V435.76" stroke="#111" stroke-width="0.9" fill="none"/>
<path d="M105.0 255V439.3" stroke="#111" stroke-width="1.1" fill="none"/>
<path d="M34.2 443.6V439.2H218.5M105 439.2V443.6M176 439.2V443.6" stroke="#222" stroke-width="1.1" fill="none"/>
<text x="34.50" y="457.83" font-size="13.5" text-anchor="middle" font-weight="normal" font-style="normal" >0.5</text>
<text x="105.00" y="457.83" font-size="13.5" text-anchor="middle" font-weight="normal" font-style="normal" >1.0</text>
<text x="176.00" y="457.83" font-size="13.5" text-anchor="middle" font-weight="normal" font-style="normal" >1.5</text>
<text x="287.10" y="261.94" font-size="8.5" text-anchor="end" font-weight="normal" font-style="normal" >HoxA1</text>
<rect x="325.20" y="255.75" width="3.80" height="5.90" fill="#000"/>
<path d="M325.20 258.70H320.40M320.40 256.90V260.50" stroke="#111" stroke-width="0.9" fill="none"/>
<text x="287.10" y="270.64" font-size="8.5" text-anchor="end" font-weight="normal" font-style="normal" >A2</text>
<rect x="318.00" y="264.44" width="11.00" height="5.90" fill="#000"/>
<path d="M318.00 267.39H314.60M314.60 265.59V269.19" stroke="#111" stroke-width="0.9" fill="none"/>
<text x="287.10" y="279.33" font-size="8.5" text-anchor="end" font-weight="normal" font-style="normal" >A3</text>
<rect x="329.00" y="273.14" width="1.00" height="5.90" fill="#000"/>
<path d="M330.00 276.09H335.80M335.80 274.29V277.89" stroke="#111" stroke-width="0.9" fill="none"/>
<text x="287.10" y="288.03" font-size="8.5" text-anchor="end" font-weight="normal" font-style="normal" >A4</text>
<rect x="329.00" y="281.83" width="1.00" height="5.90" fill="#000"/>
<path d="M330.00 284.78H333.50M333.50 282.98V286.58" stroke="#111" stroke-width="0.9" fill="none"/>
<text x="287.10" y="296.72" font-size="8.5" text-anchor="end" font-weight="normal" font-style="normal" >A5</text>
<rect x="329.00" y="290.53" width="14.00" height="5.90" fill="#000"/>
<path d="M343.00 293.48H354.60M354.60 291.68V295.28" stroke="#111" stroke-width="0.9" fill="none"/>
<text x="287.10" y="305.42" font-size="8.5" text-anchor="end" font-weight="normal" font-style="normal" >A6</text>
<rect x="313.00" y="299.23" width="16.00" height="5.90" fill="#000"/>
<path d="M313.00 302.18H301.70M301.70 300.38V303.98" stroke="#111" stroke-width="0.9" fill="none"/>
<text x="287.10" y="314.11" font-size="8.5" text-anchor="end" font-weight="normal" font-style="normal" >A7</text>
<rect x="320.40" y="307.92" width="8.60" height="5.90" fill="#000"/>
<text x="287.10" y="322.81" font-size="8.5" text-anchor="end" font-weight="normal" font-style="normal" >A9</text>
<rect x="324.20" y="316.62" width="4.80" height="5.90" fill="#000"/>
<path d="M324.20 319.56H311.20M311.20 317.76V321.37" stroke="#111" stroke-width="0.9" fill="none"/>
<text x="287.10" y="331.50" font-size="8.5" text-anchor="end" font-weight="normal" font-style="normal" >A10</text>
<rect x="329.00" y="325.31" width="6.40" height="5.90" fill="#000"/>
<path d="M335.40 328.26H354.00M354.00 326.46V330.06" stroke="#111" stroke-width="0.9" fill="none"/>
<text x="287.10" y="340.20" font-size="8.5" text-anchor="end" font-weight="normal" font-style="normal" >A11</text>
<rect x="324.60" y="334.00" width="4.40" height="5.90" fill="#000"/>
<path d="M324.60 336.95H317.50M317.50 335.15V338.75" stroke="#111" stroke-width="0.9" fill="none"/>
<text x="287.10" y="348.89" font-size="8.5" text-anchor="end" font-weight="normal" font-style="normal" >A13</text>
<rect x="320.40" y="342.70" width="8.60" height="5.90" fill="#000"/>
<path d="M320.40 345.65H316.20M316.20 343.85V347.45" stroke="#111" stroke-width="0.9" fill="none"/>
<text x="287.10" y="357.59" font-size="8.5" text-anchor="end" font-weight="normal" font-style="normal" >B1</text>
<rect x="326.20" y="351.40" width="2.80" height="5.90" fill="#000"/>
<path d="M326.20 354.35H321.70M321.70 352.55V356.15" stroke="#111" stroke-width="0.9" fill="none"/>
<text x="287.10" y="366.28" font-size="8.5" text-anchor="end" font-weight="normal" font-style="normal" >B2</text>
<rect x="329.00" y="360.09" width="99.50" height="5.90" fill="#000"/>
<path d="M428.50 363.04H473.80M473.80 361.24V364.84" stroke="#111" stroke-width="0.9" fill="none"/>
<text x="287.10" y="374.98" font-size="8.5" text-anchor="end" font-weight="normal" font-style="normal" >B3</text>
<rect x="329.00" y="368.79" width="20.50" height="5.90" fill="#000"/>
<path d="M349.50 371.74H351.20M351.20 369.94V373.54" stroke="#111" stroke-width="0.9" fill="none"/>
<text x="287.10" y="383.67" font-size="8.5" text-anchor="end" font-weight="normal" font-style="normal" >B4</text>
<rect x="329.00" y="377.48" width="26.40" height="5.90" fill="#000"/>
<path d="M355.40 380.43H364.20M364.20 378.63V382.23" stroke="#111" stroke-width="0.9" fill="none"/>
<text x="287.10" y="392.37" font-size="8.5" text-anchor="end" font-weight="normal" font-style="normal" >B5</text>
<rect x="329.00" y="386.18" width="101.40" height="5.90" fill="#000"/>
<path d="M430.40 389.12H439.60M439.60 387.32V390.93" stroke="#111" stroke-width="0.9" fill="none"/>
<text x="287.10" y="401.06" font-size="8.5" text-anchor="end" font-weight="normal" font-style="normal" >B6</text>
<rect x="327.60" y="394.87" width="1.40" height="5.90" fill="#000"/>
<path d="M327.60 397.82H300.20M300.20 396.02V399.62" stroke="#111" stroke-width="0.9" fill="none"/>
<text x="287.10" y="409.76" font-size="8.5" text-anchor="end" font-weight="normal" font-style="normal" >B7</text>
<rect x="329.00" y="403.56" width="5.80" height="5.90" fill="#000"/>
<path d="M334.80 406.51H346.30M346.30 404.71V408.31" stroke="#111" stroke-width="0.9" fill="none"/>
<text x="287.10" y="418.45" font-size="8.5" text-anchor="end" font-weight="normal" font-style="normal" >B8</text>
<rect x="322.70" y="412.26" width="6.30" height="5.90" fill="#000"/>
<path d="M322.70 415.21H314.60M314.60 413.41V417.01" stroke="#111" stroke-width="0.9" fill="none"/>
<text x="287.10" y="427.15" font-size="8.5" text-anchor="end" font-weight="normal" font-style="normal" >B9</text>
<rect x="329.00" y="420.95" width="12.00" height="5.90" fill="#000"/>
<path d="M341.00 423.90H342.00M342.00 422.10V425.70" stroke="#111" stroke-width="0.9" fill="none"/>
<text x="287.10" y="435.84" font-size="8.5" text-anchor="end" font-weight="normal" font-style="normal" >B13</text>
<rect x="329.00" y="429.65" width="10.00" height="5.90" fill="#000"/>
<path d="M339.00 432.60H343.50M343.50 430.80V434.40" stroke="#111" stroke-width="0.9" fill="none"/>
<path d="M329.0 253V437" stroke="#111" stroke-width="1.1" fill="none"/>
<path d="M261 441.2V437H505.2M329 437V441.2M397 437V441.2M465 437V441.2" stroke="#222" stroke-width="1.1" fill="none"/>
<text x="261.50" y="455.13" font-size="13.5" text-anchor="middle" font-weight="normal" font-style="normal" >0.5</text>
<text x="329.00" y="455.13" font-size="13.5" text-anchor="middle" font-weight="normal" font-style="normal" >1.0</text>
<text x="397.00" y="455.13" font-size="13.5" text-anchor="middle" font-weight="normal" font-style="normal" >1.5</text>
<text x="465.00" y="455.13" font-size="13.5" text-anchor="middle" font-weight="normal" font-style="normal" >2.0</text>
<text x="479.30" y="367.96" font-size="13.3" text-anchor="start" font-weight="normal" font-style="normal" >Hoxb2</text>
<text x="451.50" y="394.66" font-size="13.3" text-anchor="start" font-weight="normal" font-style="normal" >Hoxb5</text>
<text x="131.3" y="482.2" font-size="13.5">Relative expression (<tspan font-style="italic">Mll5</tspan><tspan font-style="italic" font-size="8.5" dy="-4.5">-/-</tspan><tspan dy="4.5"> vs wt)</tspan></text>
<path d="M100.4 527.4V665.5" stroke="#222" stroke-width="1.1" fill="none"/>
<rect x="100.4" y="536.20" width="132.50" height="11.8" fill="#fff" stroke="#222" stroke-width="1"/>
<path d="M232.90 542.10H253.80M253.80 538.40V545.80" stroke="#222" stroke-width="1" fill="none"/>
<rect x="100.4" y="553.40" width="75.60" height="12.1" fill="#000"/>
<path d="M176.00 559.45H177.80M177.80 555.75V563.15" stroke="#222" stroke-width="1" fill="none"/>
<text x="97.20" y="554.51" font-size="11.2" text-anchor="end" font-weight="normal" font-style="normal" >Hoxb5</text>
<rect x="100.4" y="582.30" width="76.00" height="11.8" fill="#fff" stroke="#222" stroke-width="1"/>
<path d="M176.40 588.20H206.20M206.20 584.50V591.90" stroke="#222" stroke-width="1" fill="none"/>
<rect x="100.4" y="599.50" width="75.60" height="12.1" fill="#000"/>
<path d="M176.00 605.55H209.80M209.80 601.85V609.25" stroke="#222" stroke-width="1" fill="none"/>
<text x="97.20" y="600.61" font-size="11.2" text-anchor="end" font-weight="normal" font-style="normal" >Hoxb4</text>
<rect x="100.4" y="628.30" width="186.70" height="11.8" fill="#fff" stroke="#222" stroke-width="1"/>
<path d="M287.10 634.20H293.80M293.80 630.50V637.90" stroke="#222" stroke-width="1" fill="none"/>
<rect x="100.4" y="645.50" width="75.60" height="12.1" fill="#000"/>
<path d="M176.00 651.55H180.30M180.30 647.85V655.25" stroke="#222" stroke-width="1" fill="none"/>
<text x="97.20" y="646.61" font-size="11.2" text-anchor="end" font-weight="normal" font-style="normal" >Hoxb2</text>
<path d="M100.4 669.3V665.6H308.6M176 665.6V669.3M251.7 665.6V669.3" stroke="#222" stroke-width="1.1" fill="none"/>
<text x="100.40" y="681.81" font-size="11.2" text-anchor="middle" font-weight="normal" font-style="normal" >0</text>
<text x="175.60" y="681.81" font-size="11.2" text-anchor="middle" font-weight="normal" font-style="normal" >1</text>
<text x="251.50" y="681.81" font-size="11.2" text-anchor="middle" font-weight="normal" font-style="normal" >2</text>
<text x="188.70" y="701.17" font-size="13.6" text-anchor="middle" font-weight="normal" font-style="normal" >Relative Expression</text>
<rect x="322.1" y="532.6" width="21.2" height="8.5" fill="#000"/>
<rect x="322.6" y="549.7" width="20.2" height="7.9" fill="#fff" stroke="#555" stroke-width="1"/>
<text x="346.20" y="540.41" font-size="11.2" text-anchor="start" font-weight="bold" font-style="normal" >+/+</text>
<text x="346.20" y="558.21" font-size="11.2" text-anchor="start" font-weight="bold" font-style="normal" >-/-</text>
</svg></body></html>
